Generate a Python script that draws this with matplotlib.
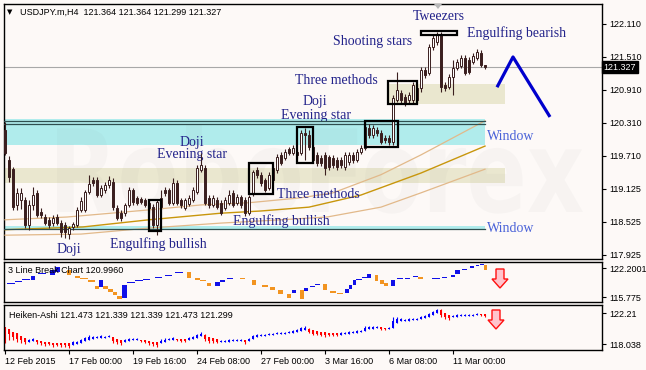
import numpy as np
import matplotlib
matplotlib.use("Agg")
import matplotlib.pyplot as plt
import matplotlib.transforms as mtransforms
from matplotlib.patches import Rectangle, Polygon, PathPatch
from matplotlib.textpath import TextPath
from matplotlib.font_manager import FontProperties

# ---- main candles USDJPY H4 (open, high, low, close) ----
opens = [120.18, 119.64, 119.47, 118.82, 118.91, 118.91, 118.46, 118.82, 119.04, 118.69,
         118.60, 118.55, 118.49, 118.60, 118.49, 118.46, 118.29, 118.42, 118.46, 118.73,
         118.73, 119.06, 119.27, 119.27, 119.00, 119.09, 119.18, 119.24, 118.76, 118.67,
         118.67, 118.82, 119.09, 118.95, 118.93, 118.91, 118.86, 118.78, 118.46, 118.78,
         119.09, 119.09, 118.86, 119.22, 118.91, 118.76, 118.84, 118.91, 119.06, 119.46,
         119.49, 118.95, 118.82, 118.91, 118.86, 118.76, 118.86, 119.04, 118.86, 118.96,
         118.91, 118.67, 119.04, 119.46, 119.37, 119.27, 119.13, 119.27, 119.46, 119.73,
         119.67, 119.84, 119.76, 119.78, 119.76, 120.13, 120.09, 119.87, 119.73, 119.67,
         119.73, 119.69, 119.67, 119.64, 119.64, 119.51, 119.60, 119.73, 119.64, 119.78,
         119.86, 120.22, 120.09, 120.18, 120.13, 120.04, 120.04, 119.96, 120.73, 120.86,
         120.78, 120.73, 120.73, 120.95, 120.95, 121.27, 121.22, 121.69, 121.78, 121.91,
         121.00, 120.96, 121.15, 121.31, 121.35, 121.49, 121.46, 121.42, 121.49, 121.58,
         121.364]
highs = [120.33, 119.71, 119.51, 119.13, 119.13, 118.96, 118.91, 119.15, 119.09, 118.76,
         118.66, 118.60, 118.64, 118.66, 118.55, 118.51, 118.44, 118.51, 118.78, 118.96,
         119.09, 119.37, 119.33, 119.33, 119.18, 119.24, 119.35, 119.31, 118.82, 118.73,
         118.86, 119.15, 119.13, 118.98, 118.96, 118.95, 118.91, 118.84, 118.91, 119.09,
         119.15, 119.13, 119.31, 119.27, 118.95, 118.95, 119.00, 119.15, 119.55, 119.76,
         119.55, 119.00, 119.00, 118.96, 118.91, 118.96, 119.09, 119.09, 119.02, 119.00,
         118.96, 119.00, 119.46, 119.51, 119.42, 119.31, 119.42, 119.55, 119.75, 119.78,
         119.84, 119.87, 119.91, 119.82, 120.18, 120.22, 120.18, 119.91, 119.78, 119.73,
         119.78, 119.73, 119.73, 119.69, 119.69, 119.78, 119.78, 119.78, 119.84, 119.91,
         120.36, 120.29, 120.27, 120.24, 120.18, 120.09, 120.09, 120.82, 121.24, 120.91,
         120.84, 120.87, 121.06, 121.00, 121.33, 121.33, 121.75, 121.93, 121.96, 121.96,
         121.06, 121.20, 121.46, 121.47, 121.55, 121.55, 121.51, 121.58, 121.66, 121.64,
         121.364]
lows = [119.73, 119.24, 118.73, 118.73, 118.75, 118.40, 118.37, 118.73, 118.60, 118.58,
        118.46, 118.40, 118.44, 118.46, 118.24, 118.22, 118.20, 118.37, 118.42, 118.69,
        118.69, 119.02, 119.16, 118.96, 118.96, 119.04, 119.13, 118.73, 118.55, 118.53,
        118.62, 118.78, 118.82, 118.82, 118.84, 118.78, 118.69, 118.40, 118.27, 118.75,
        118.98, 118.82, 118.82, 118.82, 118.76, 118.73, 118.80, 118.87, 119.02, 119.42,
        118.82, 118.76, 118.78, 118.75, 118.64, 118.73, 118.82, 118.78, 118.82, 118.76,
        118.62, 118.64, 118.98, 119.31, 119.16, 119.06, 119.09, 119.22, 119.40, 119.55,
        119.64, 119.73, 119.73, 119.67, 119.73, 119.64, 119.82, 119.58, 119.53, 119.53,
        119.37, 119.46, 119.49, 119.46, 119.49, 119.46, 119.55, 119.58, 119.60, 119.75,
        119.82, 120.04, 120.04, 120.07, 119.93, 119.95, 119.91, 119.91, 120.69, 120.66,
        120.62, 120.67, 120.67, 120.69, 120.87, 121.13, 121.18, 121.64, 121.73, 120.87,
        120.89, 120.93, 120.82, 121.27, 121.31, 121.18, 121.20, 121.38, 121.46, 121.33,
        121.299]
closes = [119.76, 119.33, 118.78, 119.04, 119.04, 118.46, 118.82, 119.00, 118.64, 118.64,
          118.49, 118.46, 118.58, 118.49, 118.33, 118.33, 118.40, 118.47, 118.73, 118.89,
          119.06, 119.20, 119.22, 119.00, 119.13, 119.18, 119.27, 118.78, 118.58, 118.58,
          118.82, 119.09, 118.87, 118.86, 118.87, 118.82, 118.76, 118.46, 118.87, 118.95,
          119.04, 118.86, 119.22, 118.86, 118.82, 118.91, 118.95, 119.09, 119.49, 119.55,
          118.86, 118.82, 118.95, 118.78, 118.67, 118.91, 119.00, 118.82, 118.96, 118.82,
          118.67, 118.96, 119.42, 119.37, 119.22, 119.09, 119.37, 119.49, 119.69, 119.58,
          119.78, 119.76, 119.86, 119.73, 120.13, 120.09, 119.87, 119.64, 119.58, 119.58,
          119.49, 119.51, 119.55, 119.51, 119.55, 119.73, 119.73, 119.64, 119.78, 119.86,
          120.24, 120.09, 120.22, 120.13, 119.96, 120.00, 119.96, 120.76, 120.91, 120.73,
          120.67, 120.82, 121.00, 120.73, 121.27, 121.18, 121.69, 121.86, 121.91, 120.96,
          120.95, 121.15, 121.31, 121.42, 121.49, 121.22, 121.24, 121.53, 121.60, 121.36,
          121.327]
last_price = 121.327

# moving averages (sampled along the chart)
ma_fast_x = [0, 15.5, 36, 49, 61, 74, 82, 94, 104, 120]
ma_fast_y = [118.55, 118.60, 118.73, 118.82, 118.86, 118.95, 119.04, 119.37, 119.73, 120.35]
ma_mid_x = [0, 19.5, 36, 54, 64, 76, 89, 104, 120]
ma_mid_y = [118.37, 118.42, 118.55, 118.67, 118.71, 118.78, 119.00, 119.40, 119.89]
ma_slow_x = [0, 19, 36, 54, 69, 80.5, 94, 104, 120]
ma_slow_y = [118.27, 118.29, 118.40, 118.49, 118.55, 118.60, 118.78, 119.04, 119.47]

# zones
window_zones = [(120.38, 119.91), (118.44, 118.38)]
window_lines = [120.35, 120.29, 118.39]
window_end = 120
beige_zones = [(-0.25, 125, 119.22, 119.49), (95.5, 125, 120.66, 121.02)]
# pattern boxes: x0, x1, low, high
pattern_boxes = [(36.0, 39.0, 118.35, 118.91), (61.0, 67.0, 119.02, 119.58),
                 (73.0, 77.0, 119.58, 120.24), (90.0, 98.25, 119.87, 120.35),
                 (95.75, 103.0, 120.66, 121.07), (104.0, 113.0, 121.91, 121.98)]
forecast_x = [123, 127, 136.25]
forecast_y = [120.96, 121.51, 120.42]

main_ticks = [122.11, 121.51, 120.91, 120.31, 119.71, 119.11, 118.51, 117.91]
main_tick_labels = ["122.110", "121.510", "120.910", "120.310", "119.710", "119.125", "118.525", "117.925"]

# ---- 3 line break blocks ----
lb_x0 = [0.5, 2.5, 4.25, 6.5, 8.25, 11.25, 12.5, 15.5, 17.5, 18.75, 20.75, 22.5, 23.5, 24.5,
         25.75, 27, 28, 29.25, 30.5, 32.5, 34.5, 37.5, 40, 42.5, 45.5, 47.5, 48.75, 50.5,
         52.5, 53.75, 55.5, 58.75, 61.75, 64.25, 66.25, 68.25, 70.5, 71.75, 73.75, 74.75,
         76.25, 77.5, 79.5, 81.25, 83, 85, 86, 87, 87.75, 89.25, 90.5, 92.5, 93.75, 94.75,
         96.5, 98, 100, 102, 103.25, 106.75, 109.25, 111.5, 112.5, 114.25, 116.25, 117.75,
         118.75, 119.75]
lb_x1 = [2.5, 4.25, 6.25, 7.5, 10.25, 12.5, 13.75, 16.5, 18.75, 20.75, 22.5, 23.5, 24.5, 25.75,
         27, 28, 29.25, 30.5, 32.5, 34.5, 36.25, 39.25, 41.75, 44.5, 46.5, 48.75, 50.25, 51.5,
         53.75, 55, 57, 60, 62.75, 65.75, 67.5, 69.5, 71.5, 72.75, 74.75, 75.75,
         77.5, 78.75, 80.5, 82.75, 84.5, 86, 86.75, 87.75, 89.25, 90.5, 91.5, 93.25, 94.75, 95.75,
         97.5, 99.5, 101.25, 103.25, 104.5, 108.75, 110.5, 112.5, 113.75, 115.5, 117.25, 118.5,
         119.75, 120.5]
lb_hi = [118.88, 119.32, 119.76, 120.43, 121.09, 121.76, 122.42, 121.76, 120.43, 119.99, 119.54,
         118.21, 119.54, 118.21, 117.55, 116.88, 115.99, 118.43, 119.10, 119.54, 119.76, 120.21,
         120.65, 121.31, 121.31, 119.99, 119.54, 118.88, 119.10, 119.54, 119.99, 119.99, 119.54,
         118.43, 117.99, 117.33, 116.44, 117.33, 117.33, 117.77, 118.21, 118.66, 118.66, 117.10,
         116.66, 117.55, 118.43, 119.54, 119.76, 120.21, 120.87, 120.65, 119.54, 118.88, 119.54,
         119.99, 119.99, 120.43, 120.21, 119.99, 120.21, 120.65, 121.76, 121.98, 122.64, 122.86,
         123.08, 122.86]
lb_lo = [118.66, 119.10, 119.54, 119.54, 120.87, 120.65, 121.31, 120.65, 119.99, 119.76, 119.10,
         117.55, 117.99, 117.55, 116.88, 116.22, 115.33, 115.55, 118.88, 119.32, 119.54, 119.99,
         120.43, 121.09, 119.99, 119.54, 119.32, 118.21, 118.21, 119.10, 119.76, 119.76, 118.43,
         117.99, 117.33, 116.44, 115.55, 116.66, 115.33, 117.10, 117.99, 118.43, 117.33, 116.66,
         116.44, 116.66, 117.55, 118.43, 119.54, 119.99, 119.99, 119.32, 118.66, 118.21, 118.21,
         119.76, 119.76, 120.21, 119.76, 119.76, 119.99, 120.21, 120.87, 121.76, 122.20, 122.64,
         122.86, 121.76]
lb_up = [1, 1, 1, 1, 1, 1, 1, 0, 0, 0, 0, 0, 1, 0, 0, 0, 0, 1, 1, 1, 1, 1, 1, 1, 0, 0, 0, 0,
         1, 1, 1, 0, 0, 0, 0, 0, 0, 1, 0, 1, 1, 1, 0, 0, 0, 1, 1, 1, 1, 1, 1, 0, 0, 0, 1,
         1, 1, 1, 0, 1, 1, 1, 1, 1, 1, 1, 1, 0]

# ---- Heiken-Ashi ----
ha_open = [120.33, 120.06, 119.65, 119.52, 119.12, 118.85, 118.31, 118.44, 118.58, 118.44,
           118.31, 118.31, 118.17, 118.17, 118.17, 118.17, 118.17, 117.90, 118.04, 118.17,
           118.44, 118.58, 118.71, 118.85, 118.85, 118.85, 118.98, 118.98, 118.71, 118.58,
           118.31, 118.44, 118.58, 118.58, 118.58, 118.58, 118.44, 118.31, 118.31, 118.17,
           118.31, 118.58, 118.58, 118.71, 118.71, 118.71, 118.58, 118.71, 118.85, 119.12,
           119.25, 118.98, 118.85, 118.71, 118.31, 118.31, 118.31, 118.44, 118.44, 118.44,
           118.58, 118.44, 118.71, 118.98, 119.12, 119.12, 119.25, 119.25, 119.39, 119.39,
           119.39, 119.52, 119.52, 119.65, 119.79, 119.92, 120.06, 119.92, 119.79, 119.65,
           119.65, 119.52, 119.52, 119.52, 119.25, 119.39, 119.39, 119.52, 119.52, 119.65,
           119.79, 120.06, 120.06, 120.19, 120.33, 120.19, 120.06, 120.19, 120.87, 121.14,
           121.14, 121.14, 121.27, 121.27, 121.40, 121.54, 121.67, 121.94, 122.21, 122.61,
           122.21, 121.94, 121.67, 121.67, 121.81, 121.81, 121.81, 121.81, 121.94, 122.08,
           122.08]
ha_high = [120.33, 120.06, 119.65, 119.52, 119.12, 118.85, 118.71, 118.85, 118.58, 118.44,
           118.31, 118.31, 118.17, 118.17, 118.17, 118.17, 118.17, 118.44, 118.44, 118.71,
           118.98, 119.25, 119.12, 119.12, 119.25, 119.12, 119.25, 118.98, 118.71, 118.58,
           118.71, 118.85, 118.85, 118.85, 118.58, 118.58, 118.44, 118.31, 118.31, 118.71,
           118.85, 118.85, 118.98, 118.71, 118.71, 118.71, 118.98, 119.12, 119.39, 119.65,
           119.39, 118.98, 118.85, 118.71, 118.58, 118.58, 118.71, 118.71, 118.71, 118.71,
           118.58, 118.85, 119.25, 119.39, 119.39, 119.39, 119.52, 119.52, 119.65, 119.65,
           119.65, 119.79, 119.92, 120.06, 120.33, 120.46, 120.19, 119.92, 119.79, 119.65,
           119.65, 119.52, 119.52, 119.52, 119.65, 119.65, 119.79, 119.79, 119.92, 119.92,
           120.46, 120.46, 120.46, 120.46, 120.33, 120.19, 120.33, 121.67, 121.67, 121.54,
           121.40, 121.54, 121.54, 121.54, 121.81, 121.94, 122.21, 122.48, 122.75, 122.75,
           122.21, 121.94, 121.94, 122.08, 122.08, 122.08, 122.08, 122.08, 122.21, 122.08,
           122.08]
ha_low = [118.17, 118.58, 118.58, 118.31, 118.17, 118.04, 118.31, 118.44, 118.04, 117.90,
          117.77, 117.90, 117.64, 117.77, 117.64, 117.64, 117.50, 117.90, 118.04, 118.17,
          118.44, 118.58, 118.71, 118.85, 118.85, 118.85, 118.98, 118.17, 118.04, 117.90,
          118.31, 118.44, 118.58, 118.58, 118.31, 118.17, 117.90, 117.77, 117.64, 118.17,
          118.31, 118.58, 118.58, 118.44, 118.31, 118.31, 118.58, 118.71, 118.85, 119.12,
          118.44, 118.17, 118.17, 118.17, 118.31, 118.31, 118.31, 118.44, 118.44, 118.44,
          118.04, 118.44, 118.71, 118.98, 119.12, 119.12, 119.25, 119.25, 119.39, 119.39,
          119.39, 119.52, 119.52, 119.65, 119.79, 119.92, 119.52, 119.25, 119.25, 119.12,
          118.98, 119.12, 119.12, 119.12, 119.25, 119.39, 119.39, 119.52, 119.52, 119.65,
          119.79, 120.06, 120.06, 120.19, 119.92, 119.92, 120.06, 120.19, 120.87, 121.14,
          121.14, 121.14, 121.27, 121.27, 121.40, 121.54, 121.67, 121.94, 122.21, 121.67,
          121.40, 121.27, 121.67, 121.67, 121.81, 121.81, 121.81, 121.81, 121.94, 121.81,
          121.67]
ha_close = [119.52, 119.39, 118.98, 118.71, 118.58, 118.31, 118.58, 118.71, 118.31, 118.17,
            118.04, 118.04, 117.90, 117.90, 117.90, 117.90, 117.77, 118.31, 118.31, 118.58,
            118.85, 118.98, 118.98, 118.98, 119.12, 118.98, 119.12, 118.44, 118.31, 118.17,
            118.58, 118.71, 118.71, 118.71, 118.44, 118.31, 118.17, 118.04, 117.90, 118.44,
            118.58, 118.71, 118.85, 118.58, 118.44, 118.44, 118.85, 118.98, 119.25, 119.39,
            118.71, 118.44, 118.44, 118.31, 118.44, 118.44, 118.58, 118.58, 118.58, 118.58,
            118.31, 118.71, 119.12, 119.25, 119.25, 119.25, 119.39, 119.39, 119.52, 119.52,
            119.52, 119.65, 119.79, 119.92, 120.19, 120.19, 119.65, 119.39, 119.39, 119.25,
            119.25, 119.25, 119.25, 119.25, 119.52, 119.52, 119.65, 119.65, 119.79, 119.79,
            120.19, 120.33, 120.33, 120.33, 120.06, 120.06, 120.19, 121.14, 121.40, 121.40,
            121.27, 121.40, 121.40, 121.40, 121.67, 121.81, 122.08, 122.34, 122.61, 121.94,
            121.67, 121.54, 121.81, 121.94, 121.94, 121.94, 121.94, 121.94, 122.08, 121.94,
            121.81]

date_pos = [0, 16, 32, 48, 64, 80, 96, 112]
date_labels = ["12 Feb 2015", "17 Feb 00:00", "19 Feb 16:00", "24 Feb 08:00",
               "27 Feb 00:00", "3 Mar 16:00", "6 Mar 08:00", "11 Mar 00:00"]

# ---------------------------------------------------------------
W, H = 646, 370
BG = "#fdf9f7"
DARK = "#3b1f1f"
NAVY = "#22228a"
UI = "Liberation Sans"
fig = plt.figure(figsize=(W / 100, H / 100), dpi=100, facecolor=BG)
pix = mtransforms.Affine2D().scale(1 / W, 1 / H) + fig.transFigure


def box(x0, y0, x1, y1):
    return [x0 / W, 1 - y1 / H, (x1 - x0) / W, (y1 - y0) / H]


ax = fig.add_axes(box(4, 4, 602, 259))
ax2 = fig.add_axes(box(4, 262, 602, 302))
ax3 = fig.add_axes(box(4, 305, 602, 350))
for a in (ax, ax2, ax3):
    a.set_facecolor(BG)
    a.set_xlim(-0.25, 149.25)
    for s in a.spines.values():
        s.set_color("black")
        s.set_linewidth(1)
    a.yaxis.tick_right()
    a.tick_params(axis="y", length=3, width=0.8, labelsize=6.5, pad=2)

# ---- main panel ----
ax.set_ylim(117.837, 122.473)
ax.set_xticks([])
ax.set_yticks(main_ticks)
ax.set_yticklabels(main_tick_labels, family=UI, fontsize=6.5)

for hi, lo in window_zones:
    ax.fill_between([-0.25, window_end], lo, hi, color="#b0ecec", lw=0, zorder=1)
for p in window_lines:
    ax.plot([-0.25, window_end], [p, p], color="#2f4f4f", lw=0.9, zorder=4)
for x0, x1, lo, hi in beige_zones:
    ax.fill_between([x0, x1], lo, hi, color="#e6e3c6", alpha=0.8, lw=0, zorder=1.2)

ax.axhline(last_price, color="#a8a8a8", lw=0.8, zorder=1.5)

# faint watermark
tp = TextPath((0, 0), "RoboForex", size=100, prop=FontProperties(family="DejaVu Sans", weight="bold"))
bb = tp.get_extents()
wm = mtransforms.Affine2D().translate(-bb.x0, 0).scale(526 / bb.width, 87 / bb.y1).translate(57, H - 212) + pix
ax.add_patch(PathPatch(tp, transform=wm, fc="#7a7a7a", alpha=0.045, lw=0, zorder=2.5))

ax.plot(ma_fast_x, ma_fast_y, color="#e2b98a", lw=0.9, zorder=3)
ax.plot(ma_mid_x, ma_mid_y, color="#c8960c", lw=1.0, zorder=3)
ax.plot(ma_slow_x, ma_slow_y, color="#e2b98a", lw=0.9, zorder=3)

o = np.array(opens)
c = np.array(closes)
x = np.arange(len(o))
up = c >= o
ax.vlines(x, lows, highs, color=DARK, lw=0.8, zorder=5)
ax.bar(x[up], c[up] - o[up], bottom=o[up], width=0.62, facecolor="white",
       edgecolor=DARK, lw=0.7, zorder=6)
ax.bar(x[~up], o[~up] - c[~up], bottom=c[~up], width=0.62, facecolor=DARK,
       edgecolor=DARK, lw=0.7, zorder=6)

for x0, x1, lo, hi in pattern_boxes:
    ax.add_patch(Rectangle((x0, lo), x1 - x0, hi - lo, fill=False, ec="black", lw=1.6, zorder=7))

ax.plot(forecast_x, forecast_y, color="#0000cd", lw=2.3, zorder=7, solid_capstyle="butt")

notes = [("Tweezers", 413, 17, NAVY), ("Engulfing bearish", 467, 33, NAVY),
         ("Shooting stars", 333, 41, NAVY), ("Three methods", 295, 80, NAVY),
         ("Doji", 303, 101, NAVY), ("Evening star", 281, 116, NAVY),
         ("Doji", 180, 142, NAVY), ("Evening star", 157, 155, NAVY),
         ("Three methods", 277, 194, NAVY), ("Engulfing bullish", 233, 221, NAVY),
         ("Engulfing bullish", 110, 244, NAVY), ("Doji", 57, 249, NAVY),
         ("Window", 487, 136, "#4a62d8"), ("Window", 487, 229, "#4a62d8")]
for txt, tx, ty, col in notes:
    ax.text(tx / W, 1 - ty / H, txt, transform=fig.transFigure, family="Liberation Serif",
            fontsize=10, color=col, ha="left", va="center", zorder=3.5)

ax.text(7 / W, 1 - 12.5 / H, "\u25bc", transform=fig.transFigure, fontsize=5, va="center")
ax.text(20 / W, 1 - 12.5 / H, "USDJPY.m,H4  121.364 121.364 121.299 121.327",
        transform=fig.transFigure, family=UI, fontsize=6.5, va="center")
ax.text(1.003, last_price, "121.327", transform=mtransforms.blended_transform_factory(ax.transAxes, ax.transData),
        family=UI, fontsize=6.5, color="white", va="center", ha="left",
        bbox=dict(boxstyle="square,pad=0.2", fc="black", ec="black"), clip_on=False)

# ---- 3 line break ----
ax2.set_ylim(114.67, 123.53)
ax2.set_xticks([])
ax2.set_yticks([122.2001, 115.775])
ax2.set_yticklabels(["122.2001", "115.775"], family=UI, fontsize=6.5)
lx0 = np.array(lb_x0)
lx1 = np.array(lb_x1)
lhi = np.array(lb_hi)
llo = np.array(lb_lo)
lup = np.array(lb_up, dtype=bool)
for m, col in ((lup, "#1010e8"), (~lup, "#f29420")):
    ax2.bar(lx0[m], lhi[m] - llo[m], bottom=llo[m], width=lx1[m] - lx0[m], align="edge",
            color=col, lw=0)
ax2.text(8 / W, 1 - 270.5 / H, "3 Line Break Chart 120.9960", transform=fig.transFigure,
         family=UI, fontsize=6.5, va="center")

# ---- Heiken-Ashi ----
ax3.set_ylim(117.231, 123.287)
ax3.set_yticks([122.21, 118.038])
ax3.set_yticklabels(["122.21", "118.038"], family=UI, fontsize=6.5)
ho = np.array(ha_open)
hc = np.array(ha_close)
hx = np.arange(len(ho))
hup = hc >= ho
hcol = np.where(hup, "#0000ff", "#ff0000")
ax3.vlines(hx, ha_low, ha_high, colors=hcol, lw=0.8)
ax3.bar(hx, np.abs(hc - ho), bottom=np.minimum(ho, hc), width=0.7, color=hcol, lw=0)
ax3.text(9 / W, 1 - 315 / H, "Heiken-Ashi 121.473 121.339 121.339 121.473 121.299",
         transform=fig.transFigure, family=UI, fontsize=6.5, va="center")
ax3.set_xticks(date_pos)
ax3.set_xticklabels(date_labels, family=UI, fontsize=6.5)
for lbl in ax3.get_xticklabels():
    lbl.set_ha("left")
ax3.tick_params(axis="x", length=3, width=0.8, pad=2)

# down arrows and small markers
for cx, top, mid, bot in ((500, 269, 279, 288), (496, 310, 320, 329)):
    pts = [(cx - 4, top), (cx + 4, top), (cx + 4, mid), (cx + 8, mid), (cx, bot),
           (cx - 8, mid), (cx - 4, mid)]
    fig.add_artist(Polygon([(px, H - py) for px, py in pts], closed=True, transform=pix,
                           fc="#ffc4cc", ec="#ff1010", lw=1))
fig.add_artist(Polygon([(434, H - 4), (442, H - 4), (438, H - 9)], transform=pix,
                       fc="#b8b8b8", ec="none"))

fig.savefig("out.png", dpi=100, facecolor=BG)
